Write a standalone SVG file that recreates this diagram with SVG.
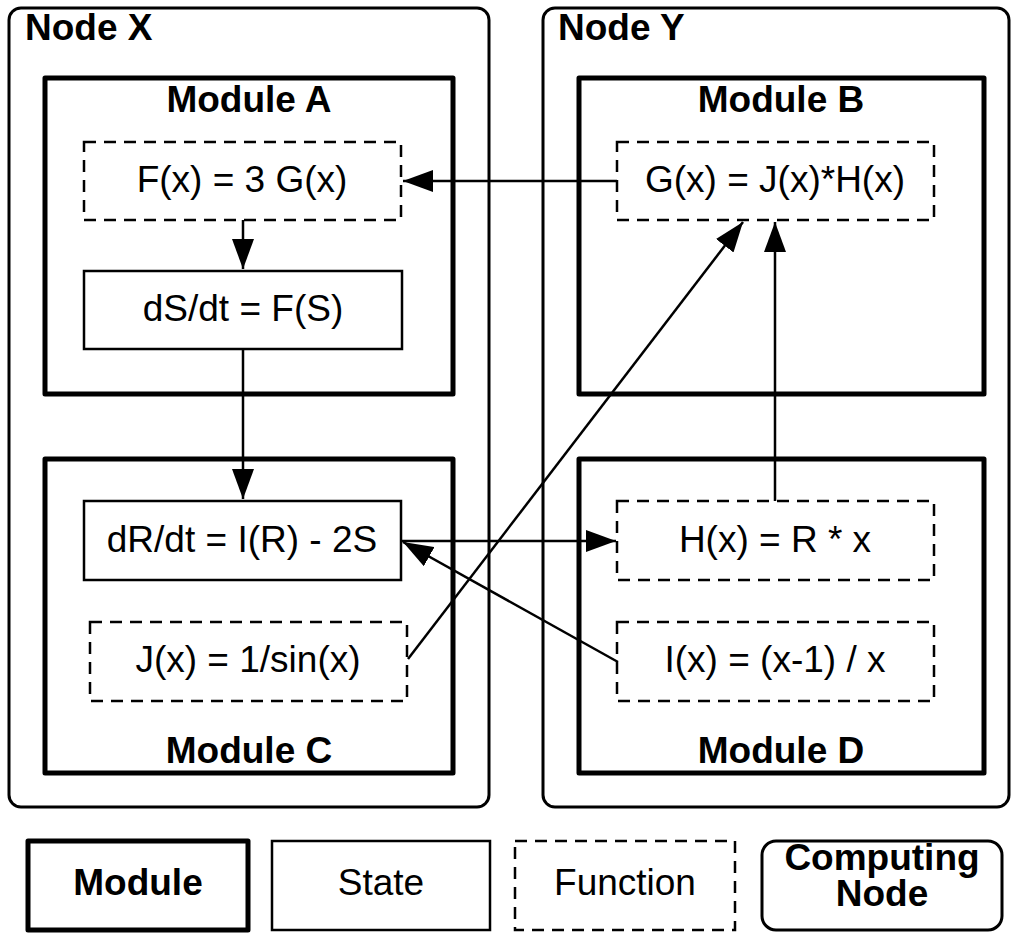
<svg xmlns="http://www.w3.org/2000/svg" width="1011" height="933" viewBox="0 0 1011 933">
<defs>
<marker id="arr" viewBox="0 0 30 22" refX="30" refY="11" markerWidth="30" markerHeight="22" markerUnits="userSpaceOnUse" orient="auto">
<path d="M0,0 L30,11 L0,22 z" fill="#000"/>
</marker>
</defs>
<style>
text{font-family:"Liberation Sans",Arial,Helvetica,sans-serif;font-size:37px;fill:#000}
.b{font-weight:bold}
.c{text-anchor:middle}
.node{fill:none;stroke:#000;stroke-width:3}
.mod{fill:none;stroke:#000;stroke-width:5;stroke-linejoin:round}
.state{fill:#fff;stroke:#000;stroke-width:2.5}
.func{fill:#fff;stroke:#000;stroke-width:2.5;stroke-dasharray:12 8}
.con{fill:none;stroke:#000;stroke-width:2.5;marker-end:url(#arr)}
</style>
<rect width="1011" height="933" fill="#fff"/>
<g id="nodeX"><rect class="node" x="9" y="8" width="480" height="799" rx="12"/><text class="b" x="25" y="40">Node X</text></g>
<g id="nodeY"><rect class="node" x="543" y="8" width="466" height="799" rx="12"/><text class="b" x="558" y="40">Node Y</text></g>
<g id="moduleA"><rect class="mod" x="45" y="78" width="408" height="316"/><text class="b c" x="249" y="112">Module A</text></g>
<g id="moduleB"><rect class="mod" x="579" y="78" width="405" height="316"/><text class="b c" x="781" y="112">Module B</text></g>
<g id="moduleC"><rect class="mod" x="45" y="459" width="408" height="314"/><text class="b c" x="249" y="763">Module C</text></g>
<g id="moduleD"><rect class="mod" x="579" y="459" width="405" height="314"/><text class="b c" x="781" y="763">Module D</text></g>
<g id="F"><rect class="func" x="84" y="142" width="317" height="78"/><text class="c" x="242" y="192">F(x) = 3 G(x)</text></g>
<g id="dS"><rect class="state" x="84" y="271" width="318" height="78"/><text class="c" x="243" y="321">dS/dt = F(S)</text></g>
<g id="dR"><rect class="state" x="84" y="501" width="317" height="79"/><text class="c" x="242" y="552">dR/dt = I(R) - 2S</text></g>
<g id="J"><rect class="func" x="90" y="622" width="317" height="79"/><text class="c" x="248" y="672">J(x) = 1/sin(x)</text></g>
<g id="G"><rect class="func" x="617" y="142" width="317" height="78"/><text class="c" x="775" y="192">G(x) = J(x)*H(x)</text></g>
<g id="H"><rect class="func" x="617" y="501" width="317" height="79"/><text class="c" x="775" y="552">H(x) = R * x</text></g>
<g id="I"><rect class="func" x="617" y="622" width="317" height="79"/><text class="c" x="775" y="672">I(x) = (x-1) / x</text></g>
<g id="connectors">
<path class="con" d="M617,181 L403,181"/>
<path class="con" d="M243,220 L243,269"/>
<path class="con" d="M243,349 L243,499"/>
<path class="con" d="M402,541 L616,541"/>
<path class="con" d="M618,662 L403,542"/>
<path class="con" d="M408,659 L743,222"/>
<path class="con" d="M775,501 L775,222"/>
</g>
<g id="legend">
<g id="legModule"><rect class="mod" x="28" y="841" width="220" height="89"/><text class="b c" x="138" y="895">Module</text></g>
<g id="legState"><rect class="state" x="272" y="841" width="218" height="89"/><text class="c" x="381" y="895">State</text></g>
<g id="legFunction"><rect class="func" x="515" y="841" width="220" height="89"/><text class="c" x="625" y="895">Function</text></g>
<g id="legNode"><rect class="node" x="762" y="841" width="240" height="89" rx="14"/><text class="b c" x="882" y="870">Computing</text><text class="b c" x="882" y="906">Node</text></g>
</g>
</svg>
